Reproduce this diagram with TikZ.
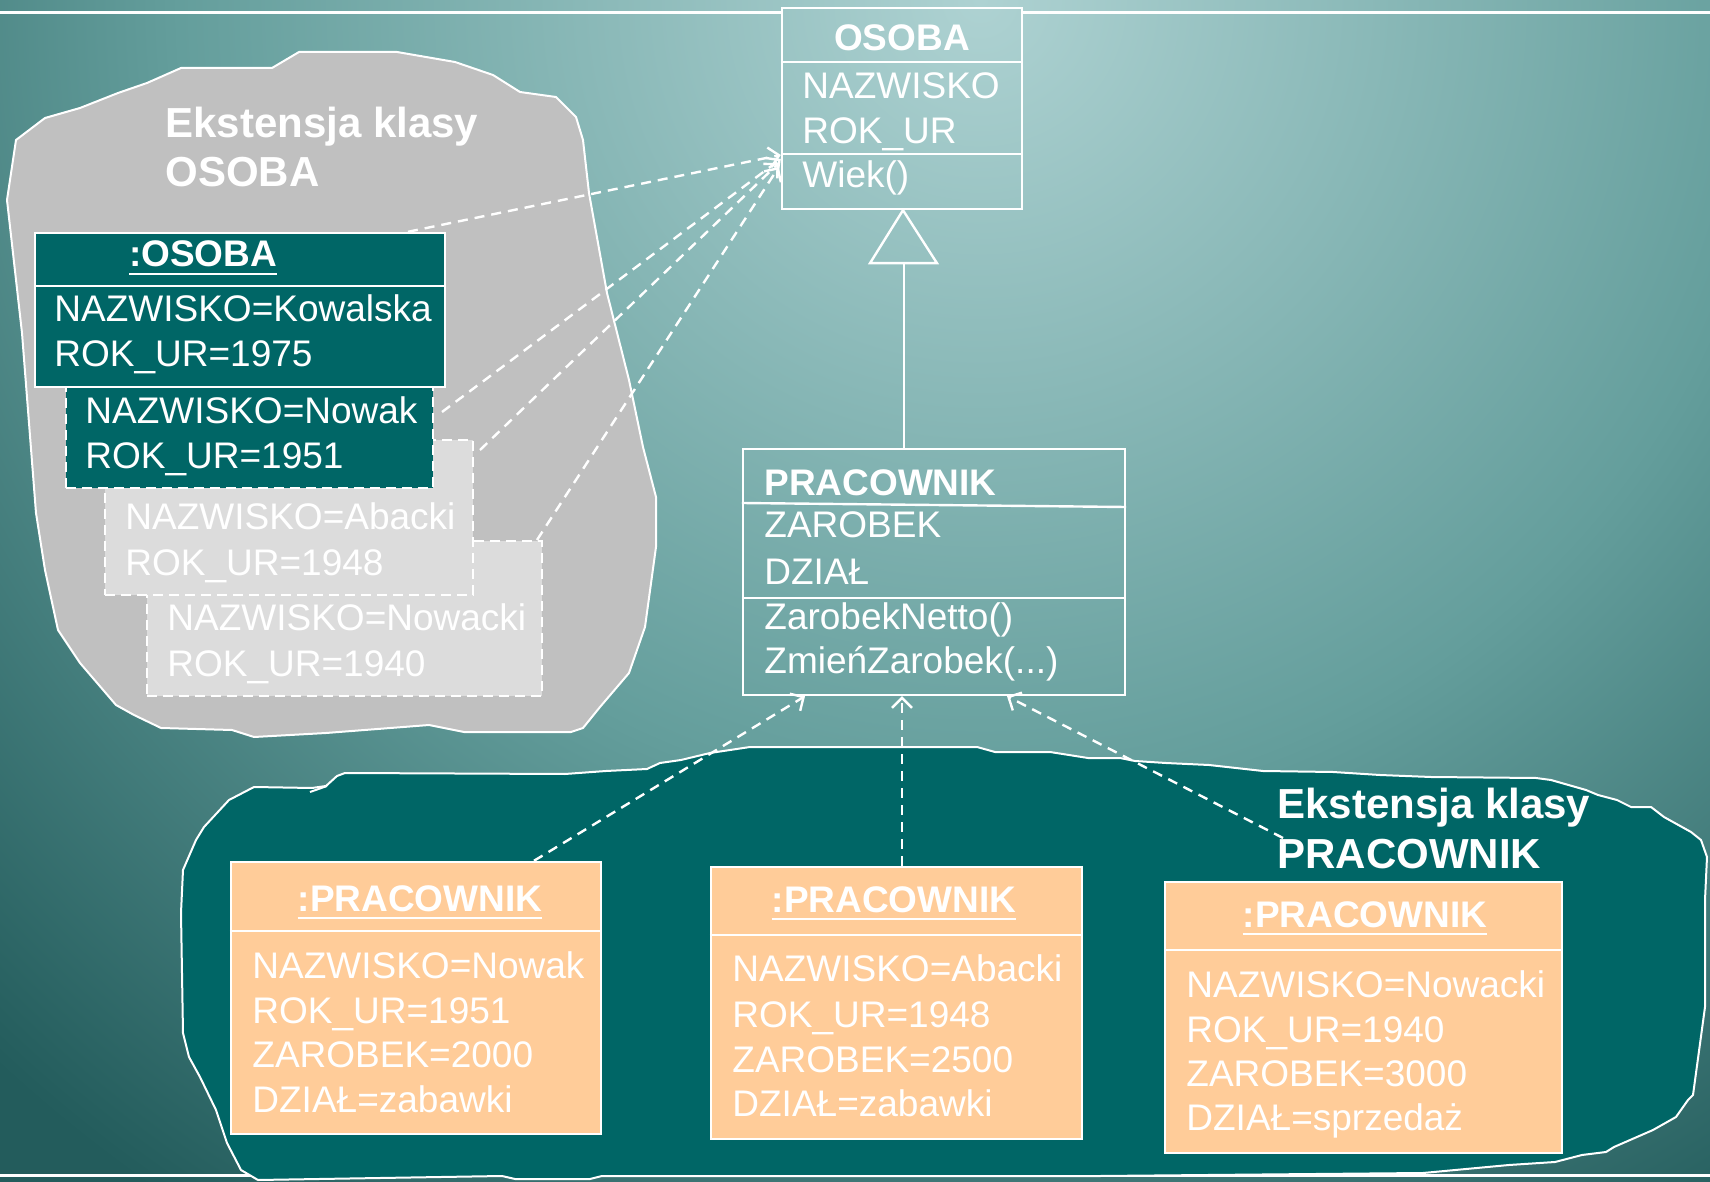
\documentclass[tikz,border=0pt]{standalone}
\usepackage{fontspec}
\setmainfont{Liberation Sans}
\usetikzlibrary{arrows.meta,fit,calc}
\definecolor{bgA}{RGB}{174,210,210}
\definecolor{bgB}{RGB}{100,158,156}
\definecolor{bgC}{RGB}{35,92,92}
\definecolor{tealbox}{RGB}{0,102,102}
\definecolor{peach}{RGB}{255,204,153}
\definecolor{blobgray}{RGB}{192,192,192}
\definecolor{ghost}{RGB}{220,220,220}
\pgfdeclareradialshading{bgshade}{\pgfpoint{0bp}{0bp}}{color(0bp)=(bgA); color(6.9bp)=(bgB); color(12.5bp)=(bgC); color(50bp)=(bgC)}
\newcommand\ulbox[1]{\setbox0\hbox{#1}\rlap{\rule[-4.2pt]{\wd0}{1.4pt}}\box0}
\begin{document}
\begin{tikzpicture}[x=0.5pt,y=-0.5pt,
  txt/.style={text=white, inner sep=0pt, anchor=base west, font=\fontsize{18.5}{22}\selectfont},
  txtc/.style={txt, anchor=base},
  btxt/.style={txt, font=\fontsize{18.5}{22}\selectfont\bfseries},
  btxtc/.style={btxt, anchor=base},
  lbl/.style={txt, font=\fontsize{21}{25}\selectfont\bfseries},
  clsbox/.style={draw=white, line width=1.2pt, inner sep=0pt},
  objbox/.style={draw=white, line width=1.2pt, fill=tealbox, inner sep=0pt},
  dashbox/.style={draw=white, line width=1pt, dash pattern=on 5pt off 3pt, inner sep=0pt},
  peachbox/.style={draw=white, line width=1.2pt, fill=peach, inner sep=0pt},
  sep/.style={white, line width=1.2pt},
  dep/.style={white, line width=1.2pt, dash pattern=on 5pt off 3.5pt, -{Straight Barb[length=5pt,width=10pt]}},
  blob/.style={draw=white, line width=1pt, line join=round},
  rulel/.style={white, line width=1.5pt}]
\useasboundingbox (0,0) rectangle (1710,1182);
% background
\begin{scope}
\clip (0,0) rectangle (1710,1182);
\shade[shading=bgshade] (980,0) circle[radius=1450pt];
\end{scope}
% class OSOBA box (needed for the top rule)
\node[clsbox, fit={(782,8) (1022,209)}] (osoba) {};
\draw[rulel] (0,13) -- (osoba.west |- 0,13);
\draw[rulel] (osoba.east |- 0,13) -- (1710,13);
\draw[rulel] (0,1175) -- (1710,1175);
% gray blob
\filldraw[blob, fill=blobgray] (45,118) -- (80,108) -- (118,93) -- (147,83) -- (181,68) -- (272,68) -- (299,52) -- (397,52) -- (455,62) -- (493,75) -- (520,92) -- (556,97) -- (576,117) -- (583,140) -- (589,193) -- (607,293) -- (629,380) -- (643,447) -- (656,497) -- (656,547) -- (645,627) -- (629,673) -- (600,707) -- (583,728) -- (571,732) -- (464,732) -- (429,725) -- (326,733) -- (254,737) -- (232,730) -- (161,728) -- (134,715) -- (116,705) -- (80,663) -- (58,630) -- (45,570) -- (36,513) -- (29,423) -- (22,333) -- (7,200) -- (16,140) -- cycle;
% teal blob
\filldraw[blob, fill=tealbox] (254,787) -- (312,788) -- (326,786) -- (337,776) -- (345,773) -- (565,774) -- (606,771) -- (647,769) -- (660,763) -- (681,760) -- (710,753) -- (750,747) -- (977,747) -- (995,752) -- (1050,752) -- (1088,758) -- (1120,758) -- (1135,761) -- (1166,763) -- (1209,765) -- (1263,771) -- (1333,772) -- (1380,775) -- (1431,777) -- (1536,778) -- (1551,780) -- (1586,790) -- (1598,795) -- (1617,800) -- (1631,807) -- (1651,807) -- (1664,817) -- (1691,832) -- (1701,840) -- (1707,857) -- (1705,900) -- (1705,1007) -- (1693,1095) -- (1688,1100) -- (1676,1117) -- (1653,1130) -- (1614,1147) -- (1606,1152) -- (1582,1155) -- (1555,1162) -- (1509,1165) -- (1423,1173) -- (1100,1176) -- (602,1176) -- (590,1179) -- (515,1179) -- (502,1176) -- (258,1180) -- (241,1170) -- (227,1143) -- (216,1110) -- (200,1077) -- (189,1057) -- (183,1033) -- (181,913) -- (183,870) -- (196,840) -- (204,827) -- (229,800) -- cycle;
\draw[blob] (310,792) -- (327,786);
% instance boxes in the OSOBA extent
\node[dashbox, fill=ghost, fit={(147,541) (542,696)}] (inowacki) {};
\node[dashbox, fill=ghost, fit={(105,440) (473,595)}] (iabacki) {};
\node[dashbox, fill=tealbox, fit={(66,370) (433,488)}] (inowak) {};
\node[objbox, fit={(35,233) (445,387)}] (iosoba) {};
\draw[sep] (iosoba.west |- 0,286) -- (iosoba.east |- 0,286);
\node[btxtc] (tiosoba) at (203,267) {\ulbox{:OSOBA}};
\node[txt] (tkow1) at (54,322) {NAZWISKO=Kowalska};
\node[txt] (tkow2) at (54,367) {ROK\_UR=1975};
\node[txt] (tnow1) at (85,423) {NAZWISKO=Nowak};
\node[txt] (tnow2) at (85,468) {ROK\_UR=1951};
\node[txt] (taba1) at (125,530) {NAZWISKO=Abacki};
\node[txt] (taba2) at (125,575) {ROK\_UR=1948};
\node[txt] (tnwc1) at (167,630) {NAZWISKO=Nowacki};
\node[txt] (tnwc2) at (167,676) {ROK\_UR=1940};
% class OSOBA contents
\draw[sep] (osoba.west |- 0,62) -- (osoba.east |- 0,62);
\draw[sep] (osoba.west |- 0,154) -- (osoba.east |- 0,154);
\node[btxtc] (tosoba) at (902,51) {OSOBA};
\node[txt] (tos1) at (802,99) {NAZWISKO};
\node[txt] (tos2) at (802,144) {ROK\_UR};
\node[txt] (tos3) at (802,188) {Wiek()};
% class PRACOWNIK
\node[clsbox, fit={(743,449) (1125,695)}] (prac) {};
\draw[sep] (prac.west |- 0,503) -- (prac.east |- 0,507);
\draw[sep] (prac.west |- 0,598) -- (prac.east |- 0,598);
\node[btxt] (tprac) at (764,495) {PRACOWNIK};
\node[txt] (tpr1) at (764,538) {ZAROBEK};
\node[txt] (tpr2) at (764,584) {DZIAŁ};
\node[txt] (tpr3) at (764,629) {ZarobekNetto()};
\node[txt] (tpr4) at (764,673) {ZmieńZarobek(...)};
% generalization
\coordinate (apex) at (osoba.south -| 903,0);
\draw[sep] (apex) -- ++(34,53) -- ++(-67,0) -- cycle;
\coordinate (tribase) at (904,262);
\draw[sep] (tribase) -- (prac.north -| tribase);
% PRACOWNIK instances
\node[peachbox, fit={(231,862) (601,1134)}] (p1) {};
\draw[sep] (p1.west |- 0,931) -- (p1.east |- 0,931);
\node[btxtc] (tp1h) at (420,911) {\ulbox{:PRACOWNIK}};
\node[txt] (tp1a) at (252,978) {NAZWISKO=Nowak};
\node[txt] (tp1b) at (252,1023) {ROK\_UR=1951};
\node[txt] (tp1c) at (252,1067) {ZAROBEK=2000};
\node[txt] (tp1d) at (252,1112) {DZIAŁ=zabawki};
\node[peachbox, fit={(711,867) (1082,1139)}] (p2) {};
\draw[sep] (p2.west |- 0,935) -- (p2.east |- 0,935);
\node[btxtc] (tp2h) at (894,912) {\ulbox{:PRACOWNIK}};
\node[txt] (tp2a) at (732,981) {NAZWISKO=Abacki};
\node[txt] (tp2b) at (732,1027) {ROK\_UR=1948};
\node[txt] (tp2c) at (732,1072) {ZAROBEK=2500};
\node[txt] (tp2d) at (732,1116) {DZIAŁ=zabawki};
\node[peachbox, fit={(1165,882) (1562,1153)}] (p3) {};
\draw[sep] (p3.west |- 0,950) -- (p3.east |- 0,950);
\node[btxtc] (tp3h) at (1365,927) {\ulbox{:PRACOWNIK}};
\node[txt] (tp3a) at (1186,997) {NAZWISKO=Nowacki};
\node[txt] (tp3b) at (1186,1042) {ROK\_UR=1940};
\node[txt] (tp3c) at (1186,1086) {ZAROBEK=3000};
\node[txt] (tp3d) at (1186,1130) {DZIAŁ=sprzedaż};
% extent labels
\node[lbl] (lo1) at (165,138) {Ekstensja klasy};
\node[lbl] (lo2) at (165,187) {OSOBA};
\node[lbl] (lp1) at (1277,818) {Ekstensja klasy};
\node[lbl] (lp2) at (1277,868) {PRACOWNIK};
% instance-of connectors
\coordinate (s1) at (iosoba.north -| 408,0);
\coordinate (s2) at (442,412);
\coordinate (s3) at (480,450);
\coordinate (s4) at (537,540);
\draw[dep] (s1) -- (osoba.west |- 0,155);
\draw[dep] (s2) -- (osoba.west |- 0,159);
\draw[dep] (s3) -- ([xshift=-1pt]osoba.west |- 0,163);
\draw[dep] (s4) -- ([xshift=-1pt]osoba.west |- 0,167);
\coordinate (s5) at (p1.north -| 534,0);
\coordinate (s6) at (p2.north -| 902,0);
\coordinate (s7) at (1283,838);
\draw[dep] (s5) -- (prac.south -| 805,0);
\draw[dep] (s6) -- (prac.south -| 902,0);
\draw[dep] (s7) -- (prac.south -| 1007,0);
\end{tikzpicture}
\end{document}
